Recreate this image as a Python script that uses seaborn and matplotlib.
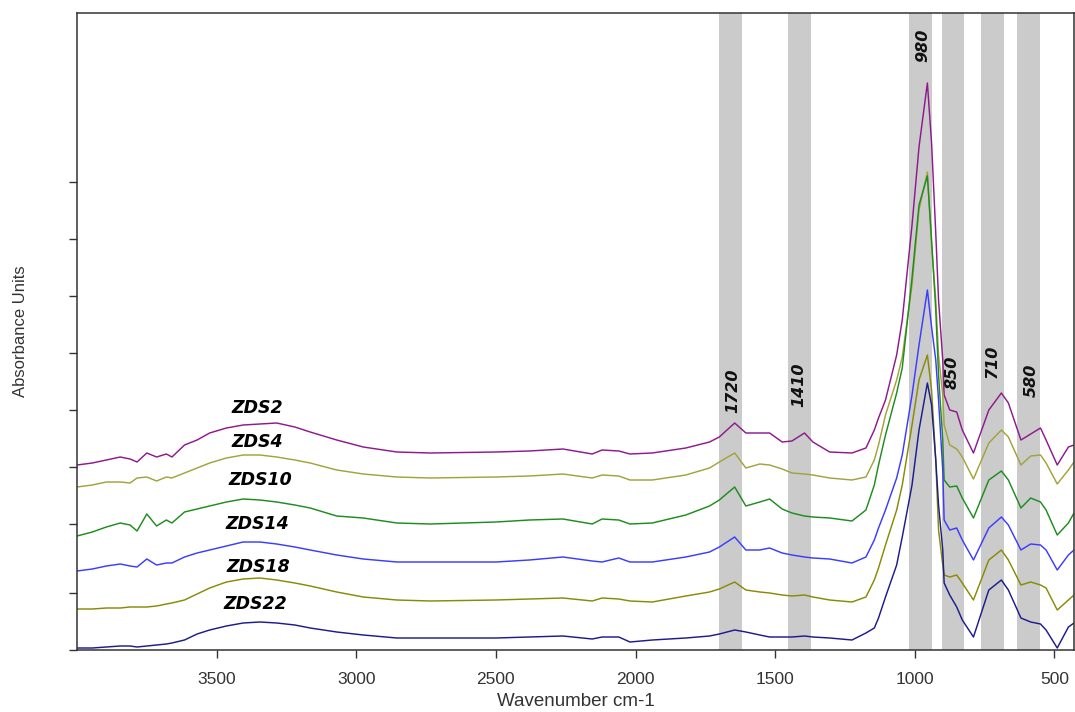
import matplotlib
matplotlib.use("Agg")
import matplotlib.pyplot as plt
import seaborn as sns
import pandas as pd

# ---------------- data ----------------
wavenumber = [4000, 3945, 3895, 3845, 3810, 3785, 3750, 3715, 3680, 3660,
              3615, 3570, 3525, 3465, 3405, 3345, 3285, 3220, 3165, 3070,
              2975, 2855, 2735, 2500, 2380, 2260, 2155, 2120, 2060, 2020,
              1940, 1820, 1735, 1700, 1645, 1605, 1555, 1520, 1475, 1440,
              1395, 1365, 1305, 1225, 1175, 1145, 1130, 1105, 1065, 1045,
              1010, 985, 955, 940, 925, 915, 900, 895, 875, 850,
              830, 790, 735, 690, 665, 620, 585, 550, 530, 490,
              450, 430]

zds2 = [1.85, 1.87, 1.90, 1.93, 1.91, 1.88, 1.97, 1.93, 1.96, 1.93,
        2.05, 2.10, 2.17, 2.22, 2.25, 2.26, 2.27, 2.23, 2.18, 2.10,
        2.03, 1.98, 1.97, 1.98, 1.99, 2.01, 1.96, 2.00, 1.99, 1.96,
        1.97, 2.02, 2.08, 2.13, 2.27, 2.17, 2.17, 2.17, 2.08, 2.09,
        2.17, 2.08, 1.98, 1.97, 2.02, 2.20, 2.32, 2.50, 2.95, 3.30,
        4.25, 5.03, 5.67, 5.07, 4.17, 3.50, 2.90, 2.55, 2.40, 2.38,
        2.20, 1.97, 2.40, 2.57, 2.47, 2.10, 2.16, 2.22, 2.10, 1.85,
        2.03, 2.05]

zds4 = [1.63, 1.65, 1.68, 1.68, 1.67, 1.72, 1.73, 1.69, 1.73, 1.72,
        1.77, 1.82, 1.87, 1.92, 1.95, 1.95, 1.93, 1.90, 1.87, 1.80,
        1.76, 1.73, 1.72, 1.73, 1.74, 1.76, 1.72, 1.75, 1.74, 1.70,
        1.70, 1.75, 1.82, 1.88, 1.97, 1.82, 1.86, 1.85, 1.81, 1.77,
        1.76, 1.75, 1.72, 1.70, 1.73, 1.90, 2.05, 2.35, 2.70, 2.93,
        3.65, 4.40, 4.78, 4.05, 3.50, 2.95, 2.55, 2.25, 2.05, 2.01,
        1.93, 1.71, 2.07, 2.20, 2.13, 1.85, 1.94, 1.95, 1.87, 1.66,
        1.80, 1.88]

zds10 = [1.14, 1.18, 1.23, 1.27, 1.25, 1.19, 1.36, 1.24, 1.30, 1.27,
         1.38, 1.41, 1.44, 1.48, 1.51, 1.50, 1.48, 1.45, 1.42, 1.34,
         1.32, 1.27, 1.26, 1.28, 1.30, 1.31, 1.26, 1.31, 1.30, 1.26,
         1.27, 1.35, 1.44, 1.50, 1.63, 1.44, 1.48, 1.51, 1.41, 1.37,
         1.34, 1.33, 1.32, 1.29, 1.40, 1.65, 1.85, 2.15, 2.57, 2.82,
         3.72, 4.45, 4.74, 4.10, 3.40, 2.75, 2.10, 1.70, 1.63, 1.64,
         1.52, 1.32, 1.70, 1.79, 1.70, 1.42, 1.52, 1.48, 1.40, 1.15,
         1.27, 1.37]

zds14 = [0.79, 0.81, 0.84, 0.86, 0.84, 0.83, 0.91, 0.85, 0.87, 0.87,
         0.93, 0.97, 1.00, 1.04, 1.08, 1.08, 1.06, 1.03, 1.00, 0.95,
         0.91, 0.88, 0.88, 0.88, 0.90, 0.93, 0.89, 0.88, 0.92, 0.88,
         0.88, 0.93, 0.98, 1.03, 1.13, 1.00, 1.00, 1.02, 0.97, 0.95,
         0.93, 0.92, 0.91, 0.87, 0.93, 1.10, 1.22, 1.40, 1.72, 1.95,
         2.55, 3.05, 3.60, 3.23, 2.90, 2.50, 1.80, 1.30, 1.20, 1.22,
         1.10, 0.90, 1.22, 1.33, 1.25, 1.00, 1.06, 1.05, 1.00, 0.80,
         0.95, 1.00]

zds18 = [0.41, 0.41, 0.42, 0.42, 0.43, 0.43, 0.43, 0.44, 0.46, 0.47,
         0.50, 0.56, 0.62, 0.68, 0.71, 0.72, 0.70, 0.67, 0.64, 0.58,
         0.53, 0.50, 0.49, 0.50, 0.51, 0.52, 0.49, 0.52, 0.51, 0.49,
         0.48, 0.54, 0.58, 0.61, 0.68, 0.60, 0.58, 0.57, 0.55, 0.54,
         0.55, 0.53, 0.50, 0.48, 0.53, 0.70, 0.82, 1.05, 1.40, 1.65,
         2.25, 2.70, 2.95, 2.60, 1.90, 1.20, 0.85, 0.75, 0.73, 0.75,
         0.67, 0.50, 0.90, 1.00, 0.90, 0.65, 0.68, 0.65, 0.62, 0.40,
         0.50, 0.55]

zds22 = [0.02, 0.02, 0.03, 0.04, 0.04, 0.03, 0.04, 0.05, 0.06, 0.07,
         0.10, 0.16, 0.20, 0.24, 0.27, 0.28, 0.27, 0.25, 0.22, 0.18,
         0.15, 0.12, 0.12, 0.12, 0.13, 0.14, 0.11, 0.13, 0.13, 0.08,
         0.10, 0.12, 0.14, 0.16, 0.20, 0.18, 0.15, 0.13, 0.13, 0.13,
         0.14, 0.13, 0.12, 0.10, 0.17, 0.22, 0.32, 0.53, 0.85, 1.13,
         1.65, 2.20, 2.67, 2.45, 1.90, 1.45, 1.00, 0.67, 0.55, 0.43,
         0.30, 0.13, 0.60, 0.70, 0.60, 0.32, 0.28, 0.26, 0.20, 0.02,
         0.23, 0.27]

samples = ["ZDS2", "ZDS4", "ZDS10", "ZDS14", "ZDS18", "ZDS22"]
colors = ["#8e1a8e", "#a3a33c", "#1f8c1f", "#3c3cff", "#8a8a05", "#1c1c8e"]
sample_label_pos = [(3353, 2.42), (3353, 2.08), (3342, 1.70),
                    (3356, 1.26), (3349, 0.83), (3360, 0.46)]

band_ranges = [(1618, 1700), (1371, 1453), (938, 1020),
               (824, 902), (681, 763), (552, 634)]
peak_labels = ["1720", "1410", "980", "850", "710", "580"]
peak_label_pos = [(1653, 2.59), (1414, 2.65), (970, 6.05),
                  (867, 2.78), (724, 2.89), (584, 2.70)]

x_ticks = [3500, 3000, 2500, 2000, 1500, 1000, 500]
y_ticks = [0.0, 0.57, 1.26, 1.83, 2.40, 2.97, 3.54, 4.11, 4.68]

# ---------------- plot ----------------
sns.set_style("ticks")
plt.rcParams["font.family"] = ["Liberation Sans", "DejaVu Sans"]

series = [zds2, zds4, zds10, zds14, zds18, zds22]
df = pd.concat([pd.DataFrame({"wn": wavenumber, "abs": s, "sample": name})
                for name, s in zip(samples, series)], ignore_index=True)

fig = plt.figure(figsize=(10.75, 7.12), dpi=100)
ax = fig.add_axes([77 / 1075, 62 / 712, 997 / 1075, 637 / 712])

for lo, hi in band_ranges:
    ax.axvspan(lo, hi, color="#cbcbcb", zorder=0, lw=0)

sns.lineplot(data=df, x="wn", y="abs", hue="sample", hue_order=samples,
             palette=colors, legend=False, linewidth=1.05, sort=False,
             estimator=None, ax=ax, zorder=2)

for name, (x, y) in zip(samples, sample_label_pos):
    ax.text(x, y, name, ha="center", va="center", fontsize=12.5,
            fontweight="bold", fontstyle="italic", color="black",
            family=["DejaVu Sans"])

for lab, (x, y) in zip(peak_labels, peak_label_pos):
    ax.text(x, y, lab, ha="center", va="center", rotation=90, fontsize=11.5,
            fontweight="bold", fontstyle="italic", color="#111111",
            family=["DejaVu Sans"])

ax.set_xlim(4000, 430)
ax.set_ylim(0, 6.37)
ax.set_xticks(x_ticks)
ax.set_xticklabels([str(t) for t in x_ticks], fontsize=12.5, color="#333333")
ax.set_yticks(y_ticks)
ax.set_yticklabels([])
ax.tick_params(axis="both", direction="out", length=6, width=1,
               color="#333333", pad=10)
ax.set_xlabel("Wavenumber cm-1", fontsize=13.5, color="#333333", labelpad=4)
ax.set_ylabel("Absorbance Units", fontsize=12, color="#333333", labelpad=19)
for sp in ax.spines.values():
    sp.set_visible(True)
    sp.set_color("#333333")
    sp.set_linewidth(1.1)

fig.savefig("out.png", dpi=100)
